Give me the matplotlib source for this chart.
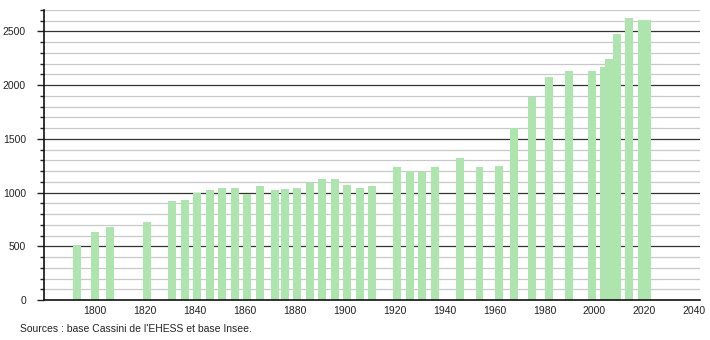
import matplotlib.pyplot as plt
from matplotlib.ticker import MultipleLocator

plt.rcParams["font.family"] = ["Liberation Sans", "DejaVu Sans"]

# census years and population
years = [1793, 1800, 1806, 1821, 1831, 1836, 1841, 1846, 1851, 1856,
         1861, 1866, 1872, 1876, 1881, 1886, 1891, 1896, 1901, 1906,
         1911, 1921, 1926, 1931, 1936, 1946, 1954, 1962, 1968, 1975,
         1982, 1990, 1999, 2004, 2006, 2009, 2014, 2019, 2021]
population = [515, 635, 682, 728, 925, 934, 1000, 1027, 1046, 1046,
              990, 1065, 1027, 1037, 1046, 1093, 1130, 1130, 1074, 1046,
              1065, 1242, 1205, 1195, 1242, 1326, 1242, 1252, 1597, 1887,
              2073, 2130, 2130, 2165, 2240, 2474, 2624, 2605, 2605]

x_ticks = [1800, 1820, 1840, 1860, 1880, 1900, 1920, 1940, 1960, 1980,
           2000, 2020, 2040]
source_text = "Sources : base Cassini de l'EHESS et base Insee."

fig = plt.figure(figsize=(7.1, 3.4), dpi=100)
ax = fig.add_axes([44 / 710, 40 / 340, 656 / 710, 290 / 340])

# grid: light every 100, dark every 500
for v in range(100, 2800, 100):
    if v % 500 == 0:
        ax.axhline(v, color="#333333", linewidth=0.9, zorder=1)
    else:
        ax.axhline(v, color="#c8c8c8", linewidth=0.9, zorder=1)

ax.bar(years, population, width=3.2, color="#aee4ae", zorder=2)

ax.set_xlim(1779.6, 2042.3)
ax.set_ylim(0, 2700)

ax.set_xticks(x_ticks)
ax.set_xticklabels([str(t) for t in x_ticks])
ax.yaxis.set_major_locator(MultipleLocator(500))
ax.yaxis.set_minor_locator(MultipleLocator(100))

ax.tick_params(axis="x", length=0, pad=4, labelsize=7.5, colors="#222222")
ax.tick_params(axis="y", which="major", length=5, width=1, pad=8,
               labelsize=7.5, colors="#222222")
ax.tick_params(axis="y", which="minor", length=3, width=1, color="#222222")

for side in ("top", "right"):
    ax.spines[side].set_visible(False)
for side in ("left", "bottom"):
    ax.spines[side].set_color("#111111")
    ax.spines[side].set_linewidth(1.2)

fig.text(20 / 710, 1 - 329 / 340, source_text, fontsize=7.5,
         va="center", ha="left", color="#222222")

fig.savefig("out.png", dpi=100)
